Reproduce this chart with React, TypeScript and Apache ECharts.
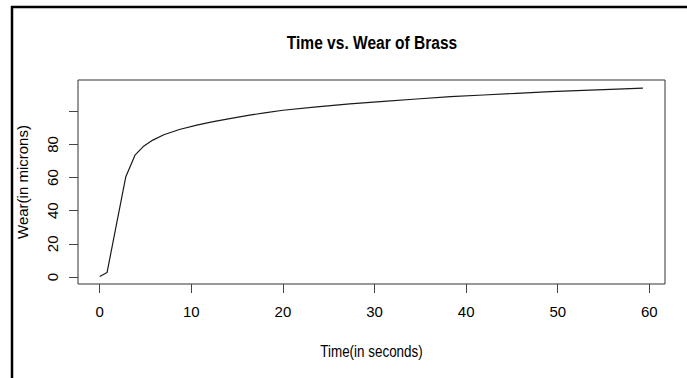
import React, { useEffect, useRef } from "react";
import * as echarts from "echarts";

const chartTitle = "Time vs. Wear of Brass";
const xAxisName = "Time(in seconds)";
const yAxisName = "Wear(in microns)";

const timeSec = [0, 0.8, 2.85, 3.85, 4.75, 5.8, 7, 8.7, 10.6, 12.4, 14.2, 16.2, 18, 20, 23.7, 27.3, 31, 34.6, 38.3, 41.9, 45.5, 49.2, 52.8, 56.5, 59.3];
const wearMicrons = [0.3, 2.7, 60.5, 73.5, 78.7, 82.6, 85.8, 89, 91.6, 93.7, 95.6, 97.5, 99, 100.6, 102.6, 104.4, 106, 107.4, 108.8, 109.8, 110.8, 111.8, 112.6, 113.4, 114];

const xTicks = [0, 10, 20, 30, 40, 50, 60];
const yTicks = [0, 20, 40, 60, 80, 100];
const yTickLabels = [0, 20, 40, 60, 80];

const FONT = "'Liberation Sans', Arial, Helvetica, sans-serif";

export default function App() {
  const ref = useRef<HTMLDivElement>(null);
  useEffect(() => {
    if (!ref.current) return;
    const chart = echarts.init(ref.current, undefined, { renderer: "svg" });
    const data = timeSec.map((t, i) => [t, wearMicrons[i]]);
    chart.setOption({
      animation: false,
      backgroundColor: "#fff",
      grid: {
        left: 78,
        top: 80,
        right: 22,
        bottom: 94,
        show: true,
        borderColor: "#333",
        borderWidth: 1,
        backgroundColor: "transparent",
      },
      xAxis: {
        type: "value",
        min: -2.37,
        max: 61.71,
        splitLine: { show: false },
        axisLine: { show: false, onZero: false },
        axisTick: { show: true, inside: false, customValues: xTicks, length: 9, lineStyle: { color: "#444", width: 1 } },
        axisLabel: {
          customValues: xTicks,
          margin: 20,
          fontSize: 15,
          fontFamily: FONT,
          color: "#000",
        },
      },
      yAxis: {
        type: "value",
        min: -4.22,
        max: 118.85,
        splitLine: { show: false },
        axisLine: { show: false, onZero: false },
        axisTick: { show: true, inside: false, customValues: yTicks, length: 9, lineStyle: { color: "#444", width: 1 } },
        axisLabel: {
          customValues: yTickLabels,
          rotate: 90,
          margin: 18,
          fontSize: 15,
          fontFamily: FONT,
          color: "#000",
        },
        name: yAxisName,
        nameLocation: "middle",
        nameGap: 48,
        nameTextStyle: { fontSize: 15, fontFamily: FONT, color: "#000" },
      },
      series: [
        {
          type: "line",
          data,
          showSymbol: false,
          symbol: "none",
          lineStyle: { color: "#1a1a1a", width: 1.2 },
        },
      ],
      graphic: [
        {
          type: "text",
          x: 372,
          y: 43,
          scaleX: 0.84,
          style: {
            text: chartTitle,
            textAlign: "center",
            textVerticalAlign: "middle",
            fontSize: 18.5,
            fontWeight: "bold",
            fontFamily: FONT,
            fill: "#000",
          },
        },
        {
          type: "text",
          x: 371.5,
          y: 352,
          scaleX: 0.84,
          style: {
            text: xAxisName,
            textAlign: "center",
            textVerticalAlign: "middle",
            fontSize: 16,
            fontFamily: FONT,
            fill: "#000",
          },
        },
        { type: "line", shape: { x1: 11, y1: 7, x2: 687, y2: 7 }, style: { stroke: "#000", lineWidth: 2.5 } },
        { type: "line", shape: { x1: 12, y1: 6, x2: 12, y2: 378 }, style: { stroke: "#000", lineWidth: 2.5 } },
      ],
    });
    return () => chart.dispose();
  }, []);
  return (
    <div
      ref={ref}
      style={{ position: "fixed", left: 0, top: 0, width: 687, height: 378, background: "#fff" }}
    />
  );
}
